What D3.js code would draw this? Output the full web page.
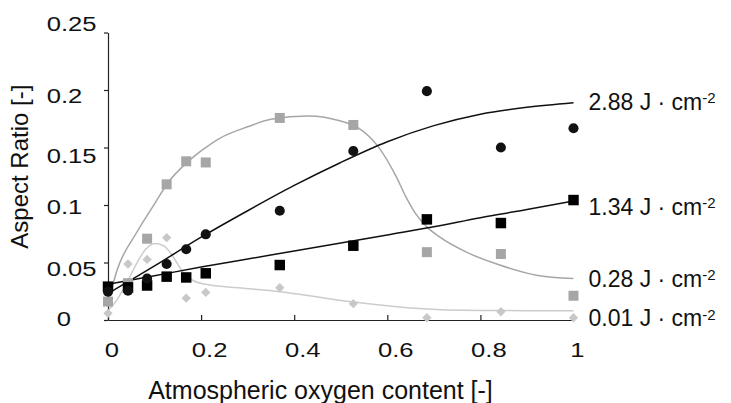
<!DOCTYPE html>
<html>
<head>
<meta charset="utf-8">
<script src="https://cdn.jsdelivr.net/npm/d3@7"></script>
<style>
  body { margin: 0; background: #fff; }
  svg { display: block; }
  text { font-family: "Liberation Sans", Arial, sans-serif; fill: #111; }
</style>
</head>
<body>
<svg id="chart" width="731" height="403"></svg>
<script>
// Measured aspect ratios for each fluence, per atmospheric oxygen content
const oxygen = [0, 0.043, 0.084, 0.126, 0.168, 0.21, 0.369, 0.527, 0.685, 0.844, 1.0];
const ar288 = [0.0246, 0.0255, 0.036, 0.0487, 0.0615, 0.0745, 0.095, 0.147, 0.199, 0.150, 0.1667];
const ar134 = [0.029, 0.0284, 0.030, 0.0377, 0.037, 0.0406, 0.0478, 0.0646, 0.0875, 0.0843, 0.1043];
const ar028 = [0.016, 0.032, 0.0707, 0.118, 0.138, 0.137, 0.1757, 0.1696, 0.059, 0.0574, 0.0211];
const ar001 = [0.0058, 0.0487, 0.0527, 0.0716, 0.019, 0.024, 0.028, 0.0142, 0.002, 0.0072, 0.002];

// Trend curves through each series
const fitX = [0, 0.1, 0.2, 0.3, 0.4, 0.5, 0.6, 0.7, 0.8, 0.9, 1.0];
const fit288 = [0.023, 0.047, 0.072, 0.095, 0.117, 0.137, 0.155, 0.169, 0.179, 0.185, 0.189];
const fit134 = [0.031, 0.0385, 0.046, 0.053, 0.060, 0.067, 0.074, 0.081, 0.089, 0.096, 0.1035];
const fit028X = [0, 0.02, 0.06, 0.1, 0.13, 0.17, 0.2, 0.24, 0.3, 0.35, 0.43, 0.5, 0.54, 0.58, 0.62, 0.64, 0.66, 0.685, 0.713, 0.77, 0.84, 0.92, 1.0];
const fit028 = [0.015, 0.044, 0.075, 0.101, 0.120, 0.137, 0.147, 0.158, 0.168, 0.1745, 0.1775, 0.173, 0.1665, 0.151, 0.124, 0.107, 0.093, 0.081, 0.072, 0.059, 0.048, 0.039, 0.036];
const fit001X = [0, 0.02, 0.04, 0.06, 0.08, 0.1, 0.12, 0.14, 0.16, 0.18, 0.21, 0.28, 0.37, 0.45, 0.52, 0.65, 0.8, 1.0];
const fit001 = [0.008, 0.018, 0.032, 0.048, 0.061, 0.0665, 0.0645, 0.055, 0.042, 0.035, 0.031, 0.028, 0.0245, 0.020, 0.016, 0.0105, 0.0082, 0.0081];

const yTicks = [0, 0.05, 0.1, 0.15, 0.2, 0.25];
const xTicks = [0, 0.2, 0.4, 0.6, 0.8, 1];
const fluenceLabels = ["2.88", "1.34", "0.28", "0.01"];

const svg = d3.select("#chart");
const x = d3.scaleLinear().domain([0, 1]).range([108, 573.5]);
const y = d3.scaleLinear().domain([0, 0.25]).range([320, 32.5]);

// Axes
const yLabelNudge = [-1.7, 6, 0.8, 8, 5.5, -9.5];
const yAxis = svg.append("g").attr("transform", "translate(108,0)")
  .call(d3.axisLeft(y).tickValues(yTicks).tickSize(4).tickSizeOuter(0)
    .tickFormat(d => String(+d.toFixed(2))));
yAxis.selectAll("text")
  .attr("x", 0).attr("dy", "0.35em")
  .style("font-size", "21px").style("text-anchor", "start")
  .attr("transform", (d, i) => `translate(${d === 0 ? -51.3 : -61.3},${yLabelNudge[i]}) scale(1.22,1)`);

const xAxis = svg.append("g").attr("transform", "translate(0,320)")
  .call(d3.axisBottom(x).tickValues(xTicks).tickSize(-5).tickSizeOuter(0)
    .tickFormat(d => String(d)));
xAxis.selectAll("text")
  .attr("y", 0).attr("dy", 0)
  .style("font-size", "21px").style("text-anchor", "middle")
  .attr("transform", d => `translate(${Number.isInteger(d) ? 3.5 : 8},36.7) scale(1.22,1)`);

svg.selectAll(".domain, .tick line").attr("stroke", "#222").attr("stroke-width", 1.2);

// Titles
svg.append("text").attr("x", 320.5).attr("y", 399).attr("text-anchor", "middle")
  .style("font-size", "25px").text("Atmospheric oxygen content [-]");
svg.append("text").attr("transform", "rotate(-90)").attr("x", -166.7).attr("y", 28.3)
  .attr("text-anchor", "middle").style("font-size", "24px").text("Aspect Ratio [-]");

// Trend curves
const line = d3.line().x(d => x(d[0])).y(d => y(d[1])).curve(d3.curveMonotoneX);
const curves = [
  { xs: fit001X, ys: fit001, color: "#cccccc" },
  { xs: fit028X, ys: fit028, color: "#a6a6a6" },
  { xs: fitX, ys: fit134, color: "#111" },
  { xs: fitX, ys: fit288, color: "#111" }
];
curves.forEach(c => {
  svg.append("path").datum(d3.zip(c.xs, c.ys))
    .attr("d", line).attr("fill", "none")
    .attr("stroke", c.color).attr("stroke-width", 1.5);
});

// Markers
const markers = [
  { vals: ar001, sym: d3.symbol(d3.symbolSquare, 44), rot: 45, color: "#c8c8c8" },
  { vals: ar028, sym: d3.symbol(d3.symbolSquare, 100), rot: 0, color: "#a6a6a6" },
  { vals: ar134, sym: d3.symbol(d3.symbolSquare, 110), rot: 0, color: "#000" },
  { vals: ar288, sym: d3.symbol(d3.symbolCircle, 80), rot: 0, color: "#111" }
];
markers.forEach(m => {
  svg.append("g").selectAll("path").data(d3.zip(oxygen, m.vals)).join("path")
    .attr("d", m.sym)
    .attr("transform", d => `translate(${x(d[0])},${y(d[1])}) rotate(${m.rot})`)
    .attr("fill", m.color);
});

// Fluence labels at the right end of each curve
const labelEnds = [fit288[fit288.length - 1], fit134[fit134.length - 1], fit028[fit028.length - 1], fit001[fit001.length - 1]];
const labelNudge = [-1, 5.5, 0, 7.5];
fluenceLabels.forEach((f, i) => {
  const t = svg.append("text").attr("x", 588.5).attr("y", y(labelEnds[i]) + labelNudge[i] + 8.2)
    .style("font-size", "23px");
  t.append("tspan").text(`${f} J · cm`);
  t.append("tspan").attr("dy", -6.5).style("font-size", "15px").text("-2");
});
</script>
</body>
</html>
